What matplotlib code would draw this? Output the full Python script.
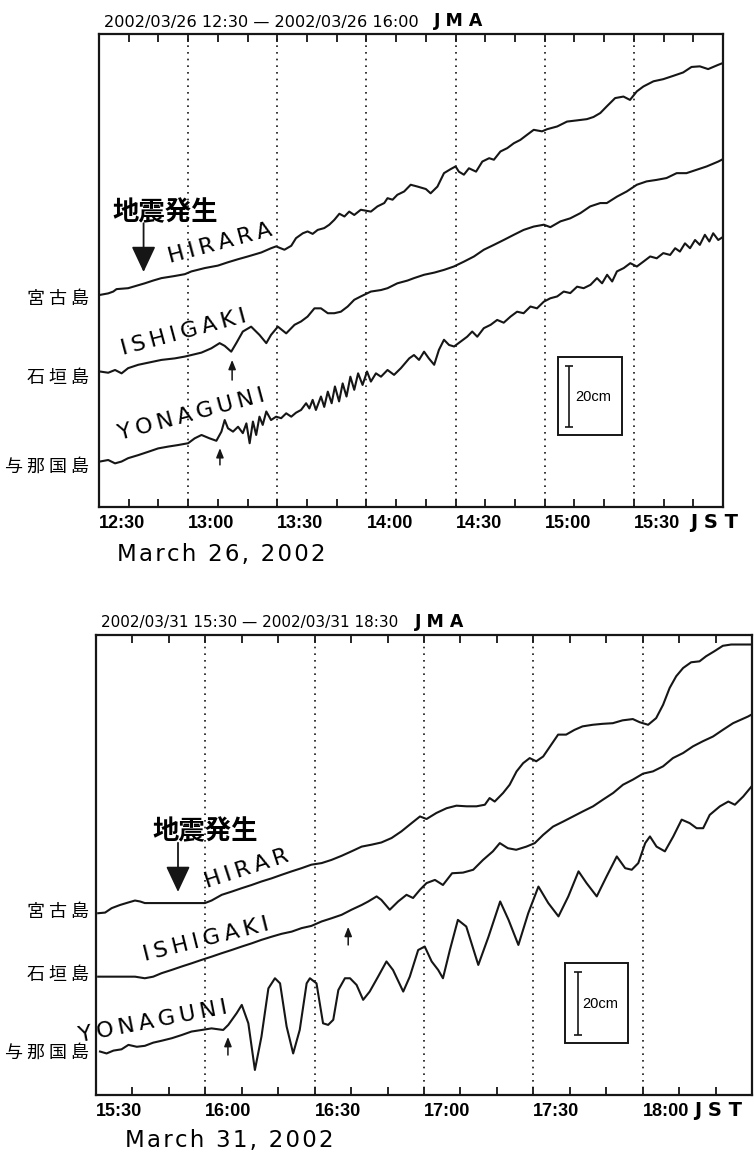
import matplotlib.pyplot as plt
from matplotlib.patches import Rectangle

plt.rcParams['font.family'] = ['DejaVu Sans', 'Noto Sans CJK JP']

# tide gauge records, minutes after start of window / level in cm
# 2002-03-26, 12:30-16:00
t_hir_26 = [0.3, 3.1, 4.8, 5.9, 9.8, 12.6, 15.4, 18.2, 21.0, 25.5, 28.9, 31.1, 35.6, 40.0,
            43.4, 46.8, 50.1, 54.6, 57.9, 59.6, 62.4, 64.7, 66.3, 68.6, 70.2, 71.9, 73.6,
            75.8, 77.5, 79.2, 80.9, 82.6, 84.2, 85.9, 88.1, 91.5, 93.7, 96.0, 97.1, 98.8,
            100.4, 102.7, 104.9, 107.2, 110.0, 111.6, 113.9, 116.1, 118.3, 120.0, 121.1,
            122.8, 124.5, 126.9, 129.0, 131.3, 132.9, 135.1, 137.4, 139.6, 141.8, 144.1,
            146.3, 149.1, 150.8, 154.2, 157.5, 160.9, 164.2, 166.4, 168.7, 170.9, 173.7,
            176.5, 178.7, 181.0, 183.2, 186.6, 189.9, 193.3, 196.6, 199.4, 202.2, 205.0,
            208.4, 210.0]
lv_hir_26 = [69.5, 70.0, 70.6, 71.4, 71.7, 72.5, 73.3, 74.2, 75.0, 75.7, 76.3, 77.2, 78.3, 79.1,
             80.2, 81.2, 82.1, 83.4, 84.8, 85.4, 84.3, 85.6, 88.1, 89.7, 90.3, 89.5, 90.8,
             91.4, 92.5, 94.1, 96.1, 95.2, 96.8, 95.7, 97.4, 96.8, 98.5, 99.6, 101.2, 100.7,
             102.3, 103.4, 105.6, 105.0, 104.2, 102.8, 105.0, 109.4, 110.7, 111.6, 109.9,
             108.9, 111.0, 109.9, 113.2, 114.3, 113.8, 116.5, 117.6, 119.2, 120.3, 122.0,
             123.6, 123.1, 123.8, 124.7, 126.3, 126.7, 127.1, 127.8, 129.1, 131.3, 134.0,
             134.5, 133.4, 136.2, 137.8, 139.5, 140.2, 141.3, 142.4, 144.2, 144.4, 143.5,
             144.9, 145.5]

t_ish_26 = [0.3, 3.1, 5.4, 7.6, 9.8, 13.2, 16.6, 21.0, 25.5, 28.9, 31.1, 34.5, 37.8, 40.6, 42.3,
            44.5, 46.2, 48.4, 51.2, 54.0, 56.3, 57.9, 60.2, 63.0, 65.8, 68.0, 70.2, 72.5,
            74.7, 77.0, 79.2, 81.4, 83.7, 85.9, 88.1, 91.5, 94.9, 97.1, 100.4, 103.8, 106.0,
            109.4, 112.8, 116.1, 119.4, 122.8, 126.2, 129.5, 132.9, 136.2, 139.6, 142.9,
            146.3, 149.7, 151.9, 155.3, 158.6, 162.0, 165.3, 168.7, 170.9, 174.3, 177.6,
            181.0, 184.3, 187.7, 191.0, 194.4, 197.7, 201.1, 204.5, 208.4, 210.0]
lv_ish_26 = [44.4, 44.0, 44.9, 43.8, 45.5, 46.6, 47.3, 48.2, 48.7, 49.3, 49.8, 50.6, 52.0, 53.7,
             52.8, 50.9, 53.7, 57.5, 59.1, 56.4, 53.7, 56.4, 59.1, 56.9, 59.7, 60.8, 62.4,
             65.1, 65.1, 63.5, 63.5, 64.0, 65.7, 67.9, 69.0, 70.6, 71.1, 71.7, 73.3, 74.2,
             75.0, 76.1, 76.8, 77.7, 78.8, 80.4, 82.1, 84.3, 85.9, 87.5, 89.2, 90.8, 91.9,
             92.5, 91.7, 93.6, 94.6, 96.3, 98.5, 99.6, 99.6, 101.7, 103.4, 105.6, 106.7,
             107.2, 107.8, 109.4, 109.4, 110.5, 111.6, 113.2, 114.0]

t_yon_26 = [0.3, 3.1, 5.4, 7.6, 9.8, 13.2, 16.6, 19.9, 23.3, 26.6, 30.0, 32.2, 34.5, 37.2, 39.5,
            41.2, 42.3, 43.4, 45.1, 46.8, 48.4, 49.6, 50.7, 51.8, 52.9, 54.0, 55.1, 56.3,
            57.9, 59.6, 61.3, 63.0, 64.7, 66.3, 68.0, 69.7, 70.8, 71.9, 73.0, 74.7, 75.8,
            77.0, 78.3, 79.4, 80.8, 82.0, 83.3, 84.6, 85.9, 87.2, 88.7, 90.2, 91.5, 93.2,
            94.9, 97.1, 99.3, 101.6, 104.4, 106.0, 107.7, 109.4, 111.0, 112.8, 114.4, 116.1,
            117.8, 119.5, 121.7, 123.9, 125.6, 127.3, 129.5, 131.8, 134.0, 136.2, 138.5,
            140.7, 142.9, 145.2, 147.4, 149.7, 151.9, 154.2, 156.4, 158.6, 160.9, 163.1,
            165.4, 167.6, 169.3, 171.0, 172.7, 174.3, 176.6, 178.8, 181.0, 183.2, 185.5,
            187.7, 189.9, 192.2, 193.9, 195.5, 197.2, 198.9, 200.6, 202.2, 203.9, 205.4,
            206.7, 208.4, 210.0]
lv_yon_26 = [14.9, 15.4, 14.3, 14.9, 16.0, 17.0, 18.1, 19.2, 19.8, 20.3, 20.9, 22.5, 23.6, 22.5,
             21.7, 24.7, 28.5, 25.8, 24.7, 26.3, 24.2, 27.4, 20.9, 28.0, 23.6, 29.6, 26.9,
             31.3, 28.5, 29.6, 29.1, 30.7, 29.6, 30.9, 31.8, 34.0, 32.3, 35.1, 31.8, 36.2,
             32.8, 37.8, 34.0, 39.5, 34.6, 40.5, 36.2, 42.7, 38.4, 43.8, 40.0, 44.4, 41.1,
             43.8, 42.7, 44.9, 43.3, 45.5, 48.7, 49.8, 48.2, 50.9, 48.7, 46.6, 51.5, 54.8,
             53.1, 52.6, 54.2, 55.8, 57.5, 55.8, 58.6, 59.7, 61.3, 60.4, 62.4, 64.0, 63.5,
             65.7, 65.1, 67.3, 68.4, 69.0, 70.6, 70.1, 72.2, 71.7, 72.8, 75.0, 73.3, 76.1,
             73.9, 77.2, 78.3, 79.9, 78.8, 80.4, 82.1, 81.5, 83.2, 82.6, 84.8, 83.7, 86.4,
             84.8, 87.5, 85.9, 89.2, 87.0, 89.7, 87.5, 88.5]

# 2002-03-31, 15:30-18:30
t_hir_31 = [0.6, 2.5, 4.3, 6.6, 8.9, 10.7, 12.1, 13.4, 18.0, 23.5, 29.9, 31.7, 34.5, 37.2, 40.0,
            42.7, 45.4, 48.2, 50.9, 53.7, 56.4, 59.1, 61.9, 64.6, 67.4, 70.1, 72.9, 75.6,
            78.3, 81.1, 83.8, 86.6, 88.9, 90.7, 93.4, 96.2, 98.9, 101.7, 104.4, 106.7, 108.0,
            109.4, 111.7, 113.5, 115.4, 117.2, 119.0, 120.8, 122.7, 124.9, 126.8, 129.0,
            131.3, 133.5, 136.3, 139.0, 141.8, 144.5, 147.3, 149.2, 151.5, 153.7, 155.6,
            157.4, 159.2, 161.1, 163.3, 165.6, 167.4, 169.7, 172.0, 174.3, 180.0]
lv_hir_31 = [57.3, 57.5, 58.9, 59.9, 60.7, 61.3, 61.0, 60.5, 60.5, 60.5, 60.5, 61.3, 63.1, 64.1,
             65.2, 66.2, 67.3, 68.3, 69.4, 70.5, 71.5, 72.6, 73.1, 74.1, 75.4, 76.8, 78.3,
             78.9, 79.6, 81.0, 83.1, 85.7, 87.8, 87.0, 88.9, 90.4, 91.2, 91.0, 91.0, 91.5,
             93.6, 92.5, 95.2, 97.8, 102.0, 104.6, 106.2, 105.2, 106.7, 110.4, 113.6, 113.6,
             115.1, 116.2, 116.7, 117.0, 117.2, 118.1, 118.5, 117.5, 116.7, 118.8, 123.0,
             128.3, 132.0, 134.6, 136.4, 136.7, 138.3, 139.9, 141.6, 142.0, 142.0]

t_ish_31 = [0.6, 5.2, 10.7, 13.4, 15.7, 18.0, 20.7, 23.5, 26.2, 29.0, 31.7, 34.5, 37.2, 40.0,
            42.7, 45.4, 48.2, 50.9, 53.7, 56.4, 59.1, 61.9, 64.6, 67.4, 70.1, 72.9, 74.7,
            77.0, 78.3, 80.6, 82.9, 85.2, 87.0, 88.9, 90.7, 93.0, 95.2, 97.7, 100.7, 103.5,
            106.2, 108.9, 110.8, 113.0, 115.3, 118.1, 120.4, 122.7, 125.4, 128.2, 130.9,
            133.6, 136.4, 139.1, 141.9, 144.6, 147.3, 150.1, 152.8, 155.6, 158.3, 161.1,
            163.8, 166.5, 169.3, 172.0, 174.8, 178.9, 180.0]
lv_ish_31 = [37.3, 37.3, 37.3, 36.8, 37.3, 38.4, 39.4, 40.5, 41.5, 42.6, 43.6, 44.7, 45.7, 46.8,
             47.8, 48.9, 49.9, 50.8, 51.5, 52.6, 53.3, 54.7, 55.7, 56.8, 58.4, 59.9, 61.0,
             62.6, 61.5, 58.4, 61.0, 63.1, 62.1, 64.7, 66.8, 67.8, 66.2, 69.9, 70.1, 71.0,
             74.1, 76.8, 79.4, 77.8, 77.3, 78.3, 79.4, 82.0, 84.6, 86.2, 87.8, 89.4, 91.0,
             93.1, 95.2, 97.8, 99.4, 101.3, 102.0, 103.6, 106.2, 107.8, 109.9, 111.5, 113.0,
             115.1, 117.2, 119.3, 120.0]

t_yon_31 = [1.1, 2.9, 4.8, 7.0, 8.9, 11.2, 13.4, 15.7, 18.0, 20.8, 23.5, 26.2, 29.0, 31.7, 34.9,
            36.3, 38.6, 40.0, 41.8, 43.6, 45.4, 47.3, 49.1, 50.5, 52.3, 54.1, 55.9, 57.8,
            58.7, 60.5, 62.3, 63.7, 65.1, 66.5, 68.3, 69.7, 71.5, 73.3, 75.1, 77.4, 79.7,
            81.5, 84.3, 86.1, 88.4, 90.2, 92.1, 93.9, 95.2, 97.1, 99.3, 101.6, 104.9, 107.7,
            110.9, 113.2, 115.9, 118.6, 121.4, 124.1, 126.9, 129.6, 132.4, 134.6, 137.4,
            140.1, 142.9, 145.2, 147.0, 148.8, 150.7, 152.0, 153.8, 156.1, 158.4, 160.7,
            162.9, 164.8, 166.6, 168.4, 171.2, 173.5, 175.3, 177.6, 179.9]
lv_yon_31 = [13.7, 13.1, 14.0, 14.4, 15.8, 15.2, 15.5, 16.5, 17.1, 17.9, 18.9, 20.0, 20.5, 21.0,
             20.5, 22.1, 25.8, 28.4, 22.6, 7.9, 18.4, 33.6, 36.8, 35.2, 21.6, 13.1, 20.5,
             35.2, 36.8, 35.2, 22.6, 22.1, 23.7, 33.1, 36.8, 36.8, 34.7, 30.0, 32.6, 37.3,
             42.1, 39.4, 32.6, 37.3, 45.7, 46.8, 42.1, 39.4, 36.8, 45.7, 55.2, 53.1, 41.0,
             49.9, 61.0, 55.2, 47.3, 57.3, 65.7, 60.5, 56.3, 62.6, 70.5, 66.8, 62.6, 68.9,
             75.2, 71.5, 71.0, 73.1, 79.4, 81.5, 78.3, 76.8, 81.5, 86.8, 85.7, 84.1, 84.1,
             88.3, 91.0, 92.5, 91.5, 94.1, 97.3]

hours_26 = ['12:30', '13:00', '13:30', '14:00', '14:30', '15:00', '15:30']
hours_31 = ['15:30', '16:00', '16:30', '17:00', '17:30', '18:00']
stations_ja = ['宮古島', '石垣島', '与那国島']

W, H = 754, 1152
fig = plt.figure(figsize=(W / 100, H / 100), dpi=100)


def fx(x):
    return x / W


def fy(y):
    return 1 - y / H


def spaced(s, sep='\u2009'):
    return sep.join(s)


ink = '#161616'
cjk = 'Noto Sans CJK JP'


def draw_panel(box, tmax, ymax, hours, traces):
    x0, y0, x1, y1 = box
    ax = fig.add_axes([fx(x0), fy(y1), fx(x1) - fx(x0), fy(y0) - fy(y1)])
    for t, lv in traces:
        ax.plot(t, lv, color=ink, lw=1.5, solid_joinstyle='round')
    for m in range(30, tmax, 30):
        ax.axvline(m, color=ink, lw=1.2, ls=(0, (1, 3)))
    ax.set_xlim(0, tmax)
    ax.set_ylim(0, ymax)
    ax.set_xticks(range(0, 30 * len(hours), 30))
    ax.set_xticklabels(hours, ha='left', family='Liberation Sans', fontsize=13,
                       fontweight='bold')
    ax.set_xticks(range(0, tmax + 1, 10), minor=True)
    ax.tick_params(which='both', direction='in', top=True, length=6, width=1.3,
                   color=ink, pad=6)
    ax.set_yticks([])
    for s in ax.spines.values():
        s.set_linewidth(1.6)
        s.set_color(ink)
    return ax


def quake_arrow(ax, t, y_top, y_tip):
    ax.annotate('', xy=(t, y_tip), xytext=(t, y_top),
                arrowprops=dict(arrowstyle='-|>,head_length=1.6,head_width=0.75',
                                color=ink, lw=1.3, shrinkA=0, shrinkB=0))


def onset_arrow(ax, t, y_top, y_tip):
    ax.annotate('', xy=(t, y_top), xytext=(t, y_tip),
                arrowprops=dict(arrowstyle='-|>,head_length=0.55,head_width=0.22',
                                color=ink, lw=1.1, shrinkA=0, shrinkB=0))


def scale_bar(ax, x0, x1, y0, y1, tb, yb, tt):
    ax.add_patch(Rectangle((x0, y0), x1 - x0, y1 - y0, fill=False, lw=1.4, ec=ink))
    ax.errorbar(tb, yb, yerr=10, color=ink, lw=1.2, capsize=3, capthick=1.2)
    ax.text(tt, yb, '20cm', fontsize=10.5, family='Liberation Sans', va='center',
            ha='left')


def station_labels(ys):
    for y, name in zip(ys, stations_ja):
        fig.text(fx(89), fy(y), ' '.join(name), family=cjk, fontsize=13,
                 ha='right', va='center')


# ---- March 26 ----
ax1 = draw_panel((99, 34, 723, 507), 210, 155, hours_26,
                 [(t_hir_26, lv_hir_26), (t_ish_26, lv_ish_26), (t_yon_26, lv_yon_26)])
fig.text(fx(104), fy(22), '2002/03/26 12:30 — 2002/03/26 16:00', fontsize=11.6,
         va='center')
fig.text(fx(434), fy(21), spaced('JMA', ' '), fontsize=12.5, fontweight='bold',
         va='center')
fig.text(fx(690), fy(522), spaced('JST', ' '), fontsize=14, fontweight='bold',
         va='center')
fig.text(fx(117), fy(555), spaced('March 26, 2002', '\u200a'), fontsize=16.5,
         va='center')

fig.text(fx(165), fy(213), '地震発生', family=cjk, fontsize=19,
         fontweight='bold', ha='center', va='center')
quake_arrow(ax1, 15, 93, 77)
for (cx, cy), name in zip([(220, 243), (184, 333), (191, 415)],
                          ['HIRARA', 'ISHIGAKI', 'YONAGUNI']):
    fig.text(fx(cx), fy(cy), spaced(name), fontsize=16, rotation=15,
             rotation_mode='anchor', ha='center', va='center')
station_labels([299, 378, 467])
onset_arrow(ax1, 44.8, 48.2, 41.6)
onset_arrow(ax1, 40.7, 19.3, 13.8)
scale_bar(ax1, 154.5, 176.0, 23.6, 49.2, 158.2, 36.2, 160.2)

# ---- March 31 ----
ax2 = draw_panel((96, 635, 752, 1095), 180, 145, hours_31,
                 [(t_hir_31, lv_hir_31), (t_ish_31, lv_ish_31), (t_yon_31, lv_yon_31)])
fig.text(fx(101), fy(623), '2002/03/31 15:30 — 2002/03/31 18:30', fontsize=11,
         va='center')
fig.text(fx(415), fy(622), spaced('JMA', ' '), fontsize=12.5, fontweight='bold',
         va='center')
fig.text(fx(694), fy(1110), spaced('JST', ' '), fontsize=14, fontweight='bold',
         va='center')
fig.text(fx(125), fy(1140), spaced('March 31, 2002', '\u200a'), fontsize=16.5,
         va='center')

fig.text(fx(205), fy(832), '地震発生', family=cjk, fontsize=19,
         fontweight='bold', ha='center', va='center')
quake_arrow(ax2, 22.5, 79.5, 64.0)
for (cx, cy, rot), name in zip([(247, 869, 18), (206, 940, 14), (153, 1022, 11)],
                               ['HIRAR', 'ISHIGAKI', 'YONAGUNI']):
    fig.text(fx(cx), fy(cy), spaced(name), fontsize=16, rotation=rot,
             rotation_mode='anchor', ha='center', va='center')
station_labels([912, 975, 1053])
onset_arrow(ax2, 69.2, 53.0, 47.3)
onset_arrow(ax2, 36.2, 18.3, 12.6)
scale_bar(ax2, 128.7, 145.9, 16.4, 41.6, 132.3, 28.8, 133.4)

fig.savefig('out.png', dpi=100)
